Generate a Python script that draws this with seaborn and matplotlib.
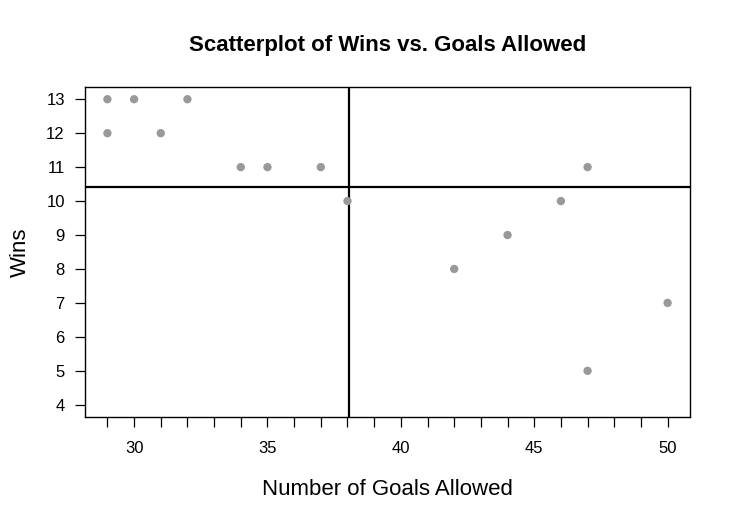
import matplotlib
matplotlib.use("Agg")
import matplotlib.pyplot as plt
import seaborn as sns
import numpy as np
import pandas as pd

goals_allowed = [29, 30, 32, 29, 31, 34, 35, 37, 38, 47, 46, 44, 42, 50, 47]
wins = [13, 13, 13, 12, 12, 11, 11, 11, 10, 11, 10, 9, 8, 7, 5]
x_tick_labels = [30, 35, 40, 45, 50]
y_ticks = list(range(4, 14))

df = pd.DataFrame({"GA": goals_allowed, "Wins": wins})

sns.set_style("white")
plt.rcParams['font.family'] = ['Liberation Sans', 'DejaVu Sans']
plt.rcParams['text.color'] = 'black'
plt.rcParams['axes.labelcolor'] = 'black'

fig = plt.figure(figsize=(7.35, 5.25), dpi=100)
ax = fig.add_axes([85/735, 1-417/525, (690-85)/735, (417-87)/525])

sns.scatterplot(data=df, x="GA", y="Wins", ax=ax, color="#999999",
                s=36, edgecolor="none", linewidth=0, zorder=3)

ax.axvline(np.mean(goals_allowed), color="black", lw=1.6, zorder=2)
ax.axhline(np.mean(wins), color="black", lw=1.6, zorder=2)

xr = max(goals_allowed) - min(goals_allowed)
ax.set_xlim(min(goals_allowed) - 0.04*xr, max(goals_allowed) + 0.04*xr)
ymin = min(min(wins), min(y_ticks))
ymax = max(wins)
yr = ymax - ymin
ax.set_ylim(ymin - 0.04*yr, ymax + 0.04*yr)

ax.set_xticks(x_tick_labels)
ax.set_xticks(range(min(goals_allowed), max(goals_allowed)+1), minor=True)
ax.set_yticks(y_ticks)
ax.tick_params(axis="both", which="both", direction="out", length=7.5, width=0.9,
               color="black", labelsize=12, labelcolor="black",
               bottom=True, left=True, top=False, right=False)
ax.tick_params(axis="x", which="major", pad=10)
ax.tick_params(axis="y", which="major", pad=7)

for sp in ax.spines.values():
    sp.set_visible(True)
    sp.set_color("black")
    sp.set_linewidth(1)

ax.set_xlabel("Number of Goals Allowed", fontsize=16, labelpad=16)
ax.set_ylabel("Wins", fontsize=16, labelpad=11)
ax.set_title("Scatterplot of Wins vs. Goals Allowed", fontsize=16,
             fontweight="bold", pad=26, color="black")

fig.savefig("out.png", dpi=100)
